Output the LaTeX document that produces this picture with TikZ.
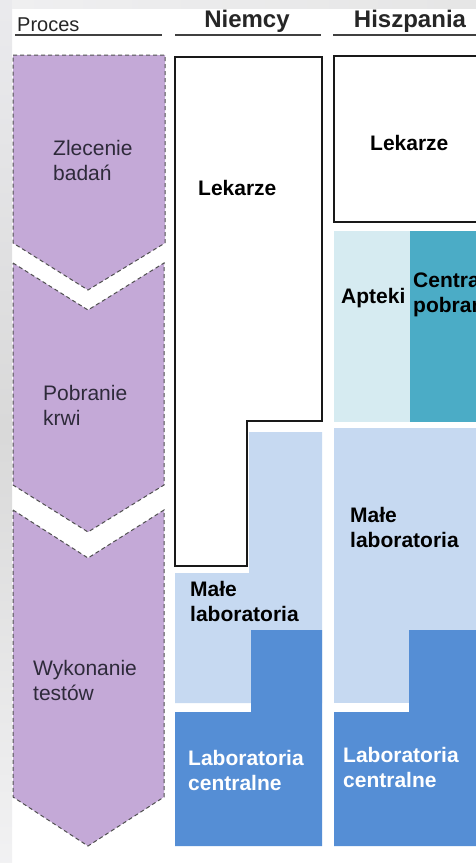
\documentclass[tikz,border=0pt]{standalone}
\usepackage{fontspec}
\setmainfont{Liberation Sans}
\usepackage{xcolor}
\usepackage{tikz}
\usetikzlibrary{positioning}

\definecolor{procfill}{HTML}{C4A9D7}
\definecolor{procline}{HTML}{505050}
\definecolor{labsmall}{HTML}{C6D9F1}
\definecolor{labcentral}{HTML}{558ED5}
\definecolor{pharmacy}{HTML}{D6EBF1}
\definecolor{collection}{HTML}{4BACC6}
\definecolor{proctext}{HTML}{2E2A3A}

\begin{document}
\begin{tikzpicture}[x=1pt, y=-1pt,
    stage/.style={fill=procfill, draw=procline, line width=1pt, dash pattern=on 4pt off 3pt},
    stagelabel/.style={anchor=west, align=left, inner sep=0pt, text=proctext, font=\fontsize{21}{25}\selectfont},
    boxlabel/.style={anchor=west, align=left, inner sep=0pt, font=\fontsize{21}{25}\selectfont\bfseries},
    header/.style={inner sep=0pt, text=black!85, font=\fontsize{24}{28}\selectfont\bfseries},
    rule/.style={draw=black!75, line width=1.6pt}]
    \useasboundingbox (0,0) rectangle (476,863);
    \clip (0,0) rectangle (476,863);

    % Background
    \fill[white] (0,0) rectangle (476,863);
    \shade[top color=blue!8!gray!15, bottom color=blue!5!gray!10, middle color=gray!30] (0,0) rectangle (12,863);
    \shade[left color=blue!5!gray!12, right color=gray!20] (12,0) rectangle (476,8);

    % Column headers
    \node[anchor=west, inner sep=0pt, text=black!85, font=\fontsize{20}{24}\selectfont] (proc) at (17,25) {Proces};
    \node[header] (de) at (247,21) {Niemcy};
    \node[header] (es) at (410,21) {Hiszpania};
    \draw[rule] (15,35) -- (162,35);
    \draw[rule] (175,35) -- (321,35);
    \draw[rule] (333,35) -- (480,35);

    % Process arrows
    \draw[stage] (13,55) -- (165,55) -- (165,243) -- (88,290) -- (13,243) -- cycle;
    \draw[stage] (13,263) -- (88,310) -- (164,263) -- (164,485) -- (88,532) -- (13,485) -- cycle;
    \draw[stage] (13,510) -- (88,558) -- (164,510) -- (164,797) -- (88,846) -- (13,797) -- cycle;
    \node[stagelabel] (order) at (53,160) {Zlecenie\\badań};
    \node[stagelabel] (blood) at (43,405) {Pobranie\\krwi};
    \node[stagelabel] (tests) at (33,680) {Wykonanie\\testów};

    % Niemcy
    \draw[fill=white, draw=black!90, line width=1.5pt] (175,57) -- (322,57) -- (322,421) -- (247,421) -- (247,566) -- (175,566) -- cycle;
    \fill[labsmall] (249,432) -- (322,432) -- (322,703) -- (175,703) -- (175,573) -- (249,573) -- cycle;
    \fill[labcentral] (251,630) -- (322,630) -- (322,846) -- (175,846) -- (175,712) -- (251,712) -- cycle;
    \node[boxlabel] (de-doc) at (198,188) {Lekarze};
    \node[boxlabel] (de-small) at (190,601) {Małe\\laboratoria};
    \node[boxlabel, text=white] (de-central) at (188,770) {Laboratoria\\centralne};

    % Hiszpania
    \draw[fill=white, draw=black!90, line width=1.5pt] (334,56) rectangle (482,222);
    \fill[pharmacy] (334,231) rectangle (410,422);
    \fill[collection] (410,231) rectangle (482,422);
    \fill[labsmall] (334,428) rectangle (482,703);
    \fill[labcentral] (409,630) -- (482,630) -- (482,846) -- (334,846) -- (334,712) -- (409,712) -- cycle;
    \node[boxlabel] (es-doc) at (370,143) {Lekarze};
    \node[boxlabel] (es-pharm) at (341,298) {Apteki};
    \node[boxlabel] (es-coll) at (413,295) {Centralne\\pobrania};
    \node[boxlabel] (es-small) at (350,527) {Małe\\laboratoria};
    \node[boxlabel, text=white] (es-central) at (343,767) {Laboratoria\\centralne};
\end{tikzpicture}
\end{document}
